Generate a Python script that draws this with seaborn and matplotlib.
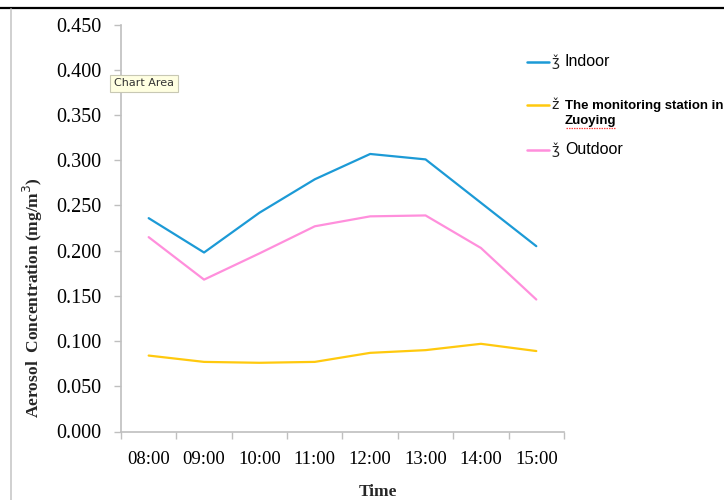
import matplotlib
matplotlib.use("Agg")
import matplotlib.pyplot as plt
import seaborn as sns
import pandas as pd
from matplotlib.lines import Line2D

# Hourly aerosol concentrations (mg/m3)
times = ["08:00", "09:00", "10:00", "11:00", "12:00", "13:00", "14:00", "15:00"]
indoor = [0.236, 0.198, 0.242, 0.279, 0.307, 0.301, 0.253, 0.205]
station = [0.084, 0.077, 0.076, 0.077, 0.087, 0.090, 0.097, 0.089]
outdoor = [0.215, 0.168, 0.197, 0.227, 0.238, 0.239, 0.203, 0.146]

series_names = ["Indoor", "The monitoring station in Zuoying", "Outdoor"]
series_values = [indoor, station, outdoor]
colors = ["#1C9AD6", "#FFC90E", "#FF8FDC"]

rows = []
for name, vals in zip(series_names, series_values):
    for i, (t, v) in enumerate(zip(times, vals)):
        rows.append({"pos": i, "time": t, "series": name, "value": v})
df = pd.DataFrame(rows)

sns.set_theme(style="white")
plt.rcParams["font.family"] = ["Liberation Serif", "DejaVu Serif"]

fig = plt.figure(figsize=(7.24, 5.00), dpi=100)
ax = fig.add_axes([0.1671, 0.137, 0.6119, 0.8136])

sns.lineplot(data=df, x="pos", y="value", hue="series", hue_order=series_names,
             palette=colors, linewidth=1.6, ax=ax, legend=False, sort=False)

ax.set_xlim(-0.5, len(times) - 0.5)
ax.set_ylim(0, 0.45)
ax.set_yticks([i * 0.05 for i in range(10)])
ax.set_yticklabels([f"{i * 0.05:.3f}" for i in range(10)], fontsize=14.5)

# category labels centred, tick marks on category boundaries
ax.set_xticks(range(len(times)))
ax.set_xticklabels(times, fontsize=13.5)
ax.set_xticks([i - 0.5 for i in range(len(times) + 1)], minor=True)
ax.tick_params(axis="x", which="major", length=0, pad=14, colors="black")
ax.tick_params(axis="x", which="minor", length=5, width=1, color="#BFBFBF",
               direction="out", bottom=True)
ax.tick_params(axis="y", length=5, width=1, color="#BFBFBF", direction="out",
               left=True, pad=9, labelcolor="black")

for s in ["top", "right"]:
    ax.spines[s].set_visible(False)
for s in ["left", "bottom"]:
    ax.spines[s].set_color("#BFBFBF")
    ax.spines[s].set_linewidth(1.2)

ax.set_xlabel("")
ax.set_ylabel("")
fig.text(378 / 724, 1 - 492 / 500, "Time", ha="center", va="center",
         fontsize=12.5, fontweight="bold")
fig.text(33 / 724, 1 - 298 / 500, "Aerosol  Concentration (mg/m$^{3}$)",
         ha="center", va="center", rotation=90, fontsize=12.5, fontweight="bold")

# legend entries
sans = ["Liberation Sans", "DejaVu Sans"]
legend_rows = [
    (62, "Indoor", "normal", 11.5, "ǯ"),
    (105, "The monitoring station in\nZuoying", "bold", 9.5, "ž"),
    (150, "Outdoor", "normal", 11.5, "ǯ"),
]
for (yy, label, weight, size, mark), col in zip(legend_rows, colors):
    yf = 1 - yy / 500
    fig.add_artist(Line2D([527 / 724, 549 / 724], [yf, yf], color=col,
                          linewidth=1.8, transform=fig.transFigure))
    fig.text(551 / 724, yf, mark, ha="left", va="center", fontsize=10,
             family=["DejaVu Sans"], color="#222222")
    if "\n" in label:
        fig.text(565 / 724, 1 - (yy - 5) / 500, label, ha="left", va="top",
                 fontsize=size, fontweight=weight, family=sans, linespacing=1.3,
                 color="black")
    else:
        fig.text(565 / 724, yf, label, ha="left", va="center",
                 fontsize=size, fontweight=weight, family=sans, color="black")
# spell-check underline under "Zuoying"
fig.add_artist(Line2D([566 / 724, 616 / 724], [1 - 127.5 / 500, 1 - 127.5 / 500],
                      color="#FF4040", linewidth=0.9, linestyle=(0, (1.2, 0.8)),
                      transform=fig.transFigure))

# hover tooltip
fig.text(114 / 724, 1 - 83.5 / 500, "Chart Area", ha="left", va="center",
         fontsize=8, family=["DejaVu Sans"], color="#333333",
         bbox=dict(boxstyle="square,pad=0.35", facecolor="#FFFFE1",
                   edgecolor="#C8C8B4", linewidth=0.8))

# page frame lines
fig.add_artist(Line2D([0, 1], [1 - 8 / 500, 1 - 8 / 500], color="black",
                      linewidth=1.6, transform=fig.transFigure))
fig.add_artist(Line2D([10.5 / 724, 10.5 / 724], [0, 1 - 9 / 500], color="#C8C8C8",
                      linewidth=1.2, transform=fig.transFigure))

fig.savefig("out.png", dpi=100)
